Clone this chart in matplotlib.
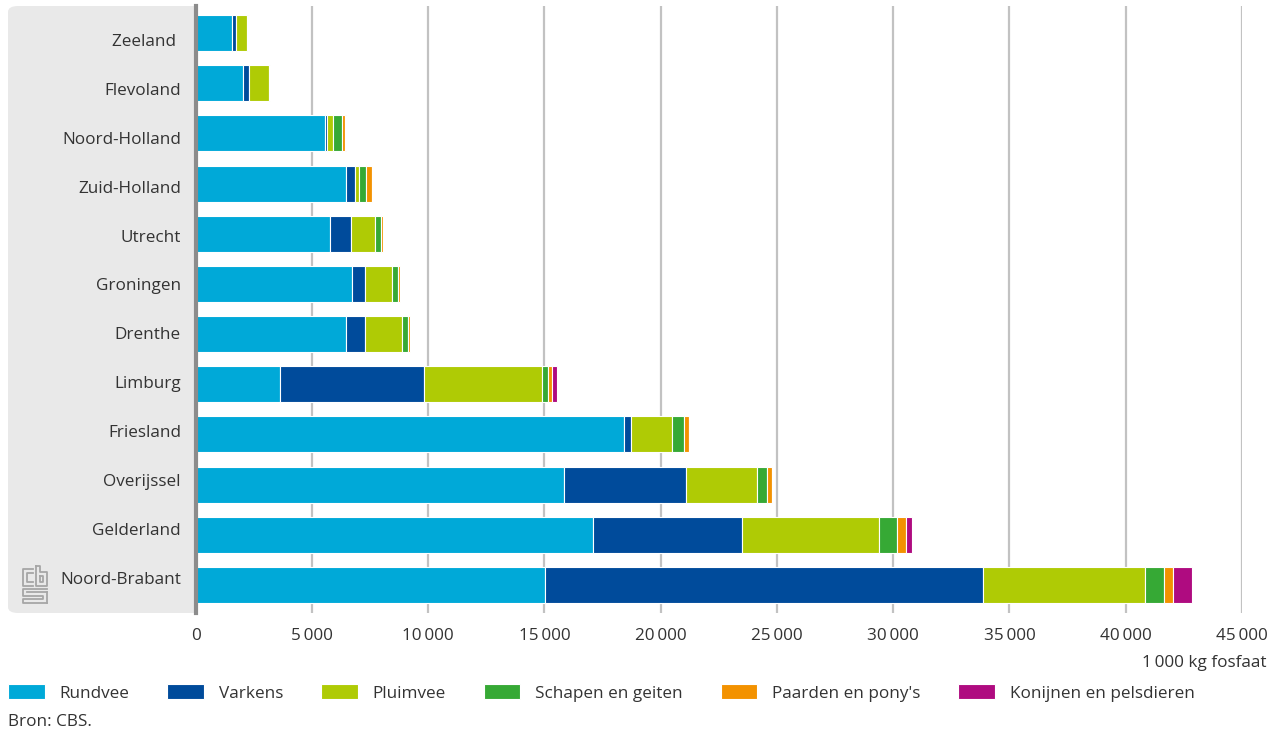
import matplotlib.pyplot as plt
from matplotlib.lines import Line2D
from matplotlib.patches import FancyBboxPatch
from matplotlib.ticker import FuncFormatter

plt.rcParams["font.family"] = ["Open Sans", "DejaVu Sans"]

W, H = 1279, 735

provinces = [
    "Zeeland ", "Flevoland", "Noord-Holland", "Zuid-Holland", "Utrecht", "Groningen",
    "Drenthe", "Limburg", "Friesland", "Overijssel", "Gelderland", "Noord-Brabant",
]
rundvee = [1560, 2060, 5590, 6480, 5790, 6720, 6490, 3640, 18420, 15830, 17090, 15050]
varkens = [190, 220, 60, 390, 880, 590, 820, 6170, 300, 5270, 6390, 18820]
pluimvee = [470, 900, 250, 150, 1070, 1160, 1590, 5080, 1750, 3040, 5930, 6960]
schapen = [50, 30, 400, 330, 220, 250, 220, 260, 530, 420, 740, 830]
paarden = [20, 10, 150, 220, 110, 80, 110, 190, 200, 210, 390, 390]
konijnen = [0, 0, 20, 20, 0, 0, 0, 190, 0, 0, 260, 780]

series = [
    ("Rundvee", rundvee, "#00a9d8"),
    ("Varkens", varkens, "#004b9b"),
    ("Pluimvee", pluimvee, "#afcb05"),
    ("Schapen en geiten", schapen, "#36a935"),
    ("Paarden en pony's", paarden, "#f39200"),
    ("Konijnen en pelsdieren", konijnen, "#af0b80"),
]

TEXT = "#333333"
FS = 12.3


def px(x, y):
    # pixel position (from top-left) to figure fraction
    return x / W, 1 - y / H


fig = plt.figure(figsize=(W / 100, H / 100), dpi=100)
ax = fig.add_axes([195.5 / W, 1 - 613 / H, (1242 - 195.5) / W, (613 - 6) / H])

# grey label band
x0, y0 = px(8, 613)
band = FancyBboxPatch(
    (x0, y0), (215 - 8) / W, (613 - 6) / H,
    boxstyle="round,pad=0,rounding_size=0.008",
    transform=fig.transFigure, facecolor="#e9e9e9", edgecolor="none", zorder=-1,
)
fig.patches.append(band)

ypos = list(range(len(provinces)))
left = [0] * len(provinces)
for name, values, color in series:
    ax.barh(ypos, values, left=left, height=0.72, color=color, edgecolor="white",
            linewidth=0.8, label=name, zorder=3)
    left = [l + v for l, v in zip(left, values)]

ax.set_xlim(0, 45000)
ax.set_ylim(len(provinces) - 1 + 0.56, -0.54)
# the labels in the original sit on a slightly tighter spacing than the bars
ax.set_yticks([0.14 + 0.974 * i for i in ypos])
ax.set_yticklabels(provinces)
ax.set_xticks(range(0, 45001, 5000))
ax.xaxis.set_major_formatter(FuncFormatter(lambda v, p: f"{int(v):,}".replace(",", "\u2009")))
ax.tick_params(axis="both", length=0, labelsize=FS, labelcolor=TEXT)
ax.tick_params(axis="y", pad=10.5)
ax.tick_params(axis="x", pad=10.5)
ax.grid(axis="x", color="#c2c2c2", linewidth=1.6, zorder=0)
ax.set_axisbelow(True)
for side in ["top", "right", "bottom"]:
    ax.spines[side].set_visible(False)
ax.spines["left"].set_color("#8c8c8c")
ax.spines["left"].set_linewidth(3)
ax.spines["left"].set_zorder(4)

fig.text(*px(1267, 663), "1\u2009000 kg fosfaat", ha="right", va="center", fontsize=FS, color=TEXT)
fig.text(*px(8, 722), "Bron: CBS.", ha="left", va="center", fontsize=FS, color=TEXT)

fig.legend(
    loc="center left", bbox_to_anchor=px(8, 693), ncol=6, frameon=False,
    fontsize=FS, handlelength=2.15, handleheight=0.95, handletextpad=0.88,
    columnspacing=2.2, borderpad=0, borderaxespad=0, labelcolor=TEXT,
)

# CBS logo, drawn as simple outlines
logo = [
    [(33, 569), (23, 569), (23, 586), (33, 586)],
    [(33, 573), (27, 573), (27, 582), (33, 582)],
    [(36, 566), (36, 586), (47, 586), (47, 572), (40, 572), (40, 566), (36, 566)],
    [(40, 576), (43, 576), (43, 582), (40, 582), (40, 576)],
    [(47, 589), (23, 589), (23, 596), (43, 596), (43, 599), (23, 599), (23, 603), (47, 603)],
    [(47, 592), (27, 592)],
    [(47, 592), (47, 603)],
]
for pts in logo:
    xs = [p[0] / W for p in pts]
    ys = [1 - p[1] / H for p in pts]
    fig.add_artist(Line2D(xs, ys, transform=fig.transFigure, color="#a6a6a6", linewidth=1.3))

fig.savefig("out.png", dpi=100)
